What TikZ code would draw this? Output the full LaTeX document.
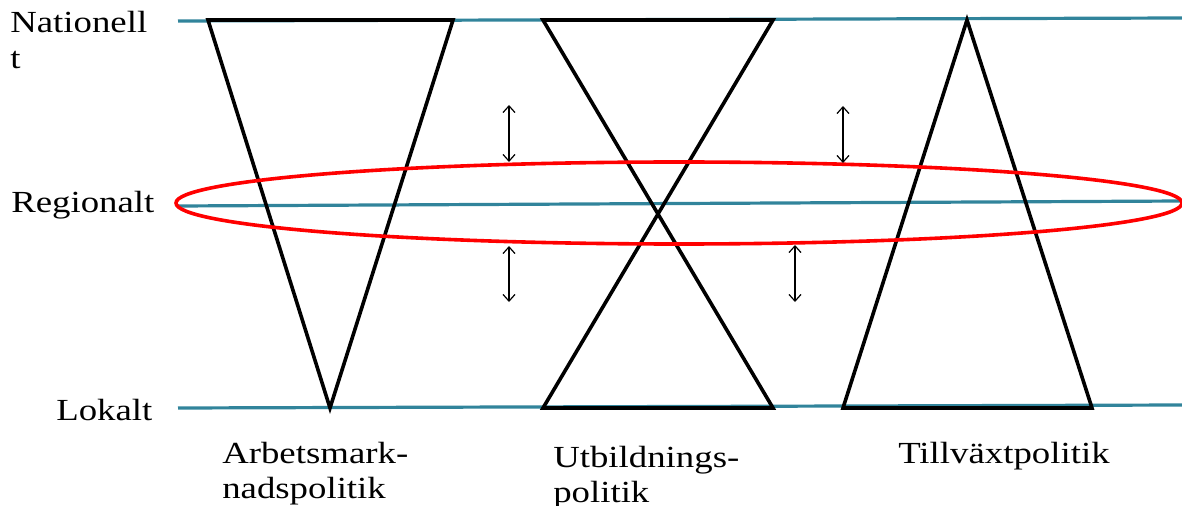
\documentclass[tikz,border=0pt]{standalone}
\usepackage{fontspec}
\setmainfont[FakeStretch=1.2]{Liberation Serif}
\usetikzlibrary{arrows.meta}
\definecolor{teal1}{HTML}{31849B}
\begin{document}
\begin{tikzpicture}[x=0.75pt,y=-0.75pt,
  level/.style={teal1,line width=2.4pt},
  tri/.style={black,line width=2.7pt,line join=miter},
  ring/.style={red,line width=2.7pt},
  dbl/.style={black,line width=0.9pt,{Straight Barb[length=5pt,width=9pt]}-{Straight Barb[length=5pt,width=9pt]}},
  lbl/.style={font=\fontsize{23pt}{27pt}\selectfont,anchor=base west,inner sep=0pt}]
\useasboundingbox (0,0) rectangle (1182,506);
% levels
\draw[level] (178,21) -- (1182,18);
\draw[level] (178,206) -- (1182,201);
\draw[level] (178,408) -- (1182,405);
% triangles
\draw[tri] (208,20) -- (453,20) -- (330,408) -- cycle;
\draw[tri] (543,20) -- (773,20) -- (543,408) -- (773,408) -- cycle;
\draw[tri] (967,20) -- (1092,408) -- (843,408) -- cycle;
% ellipse
\draw[ring] (679,203) ellipse [x radius=503, y radius=41];
% arrows
\coordinate (a1t) at (509,105); \coordinate (a1b) at (509,162);
\coordinate (a2t) at (843,106); \coordinate (a2b) at (843,163);
\coordinate (a3t) at (509,246); \coordinate (a3b) at (509,302);
\coordinate (a4t) at (795,245); \coordinate (a4b) at (795,302);
\draw[dbl] (a1t) -- (a1b);
\draw[dbl] (a2t) -- (a2b);
\draw[dbl] (a3t) -- (a3b);
\draw[dbl] (a4t) -- (a4b);
% labels
\node[lbl] (nat1) at (10,33) {Nationell};
\node[lbl] (nat2) at (10,69) {t};
\node[lbl] (reg) at (11,213) {Regionalt};
\node[lbl] (lok) at (56,420) {Lokalt};
\node[lbl] (arb1) at (222,463) {Arbetsmark-};
\node[lbl] (arb2) at (222,498) {nadspolitik};
\node[lbl] (utb1) at (553,467) {Utbildnings-};
\node[lbl] (utb2) at (553,502) {politik};
\node[lbl] (til) at (898,463) {Tillväxtpolitik};
\end{tikzpicture}
\end{document}
